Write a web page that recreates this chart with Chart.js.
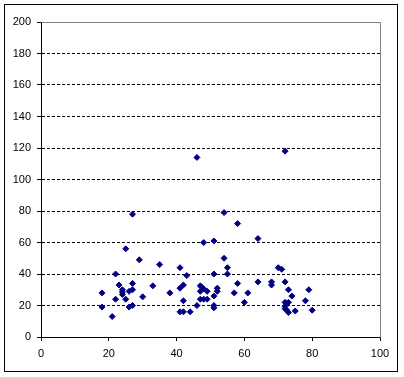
<!DOCTYPE html>
<html>
<head>
<meta charset="utf-8">
<script src="https://cdn.jsdelivr.net/npm/chart.js@4"></script>
<style>
  body { margin: 0; background: #fff; }
  #wrap { position: relative; width: 404px; height: 377px; }
  #frame { position: absolute; left: 4px; top: 4px; width: 392px; height: 366px; border: 1px solid #000; pointer-events: none; }
  canvas { position: absolute; left: 0; top: 0; }
</style>
</head>
<body>
<div id="wrap">
  <canvas id="scatterChart" width="404" height="377"></canvas>
  <div id="frame"></div>
</div>
<script>
// 散布図のデータ
const xValues = [
  18, 18, 21, 22, 22, 23, 24, 24, 24, 25, 25, 26, 26, 27, 27, 27, 27, 29, 30, 33, 35, 38,
  41, 41, 42, 42, 41, 42, 44, 43, 46, 46, 47, 47.5, 48, 49, 47, 47, 48, 49,
  48, 51, 51, 51, 51, 51, 52, 52, 54, 54, 55, 55, 58, 58, 57, 61, 60, 64, 64, 68, 68,
  70, 71, 72, 72, 73, 79, 74, 78, 72, 73, 72, 72, 72.5, 73, 75, 80
];
const yValues = [
  28, 19, 13, 40, 24, 33, 30, 28.5, 27, 56, 24, 29, 19, 78, 34, 30, 20, 49, 25.5, 32.5, 46, 28,
  44, 31, 33, 23, 16, 16, 16, 39, 114, 20, 32.5, 31.5, 30.5, 29, 29, 24, 24, 24,
  60, 61, 40, 26, 20, 18.5, 31, 29, 79, 50, 44, 40, 72, 34, 28, 28, 22, 62.5, 35, 35, 33,
  44, 43, 118, 35, 30, 30, 26, 23, 22, 22, 19.5, 18, 17, 15.5, 16.5, 17
];
const xTicks = [0, 20, 40, 60, 80, 100];
const yTicks = [0, 20, 40, 60, 80, 100, 120, 140, 160, 180, 200];

const points = xValues.map(function (x, i) { return { x: x, y: yValues[i] }; });

// プロット領域の上と右の灰色の枠線
const plotFrame = {
  id: 'plotFrame',
  beforeDatasetsDraw: function (chart) {
    const a = chart.chartArea;
    const ctx = chart.ctx;
    ctx.save();
    ctx.strokeStyle = '#808080';
    ctx.lineWidth = 1;
    ctx.beginPath();
    ctx.moveTo(Math.round(a.left) + 0.5, Math.round(a.top) + 0.5);
    ctx.lineTo(Math.round(a.right) + 0.5, Math.round(a.top) + 0.5);
    ctx.lineTo(Math.round(a.right) + 0.5, Math.round(a.bottom) + 0.5);
    ctx.stroke();
    ctx.restore();
  }
};

const labelFont = { family: '"Liberation Sans", Arial, sans-serif', size: 11 };

const ctx = document.getElementById('scatterChart').getContext('2d');
new Chart(ctx, {
  type: 'scatter',
  data: {
    datasets: [{
      data: points,
      pointStyle: 'rectRot',
      pointRadius: 3,
      pointHoverRadius: 3,
      backgroundColor: '#000080',
      borderColor: '#000080',
      borderWidth: 1
    }]
  },
  options: {
    responsive: false,
    animation: false,
    devicePixelRatio: 1,
    layout: { padding: { left: 0, top: 22, right: 24, bottom: 0 } },
    plugins: { legend: { display: false }, tooltip: { enabled: false } },
    scales: {
      x: {
        type: 'linear',
        min: 0,
        max: 100,
        afterBuildTicks: function (scale) { scale.ticks = xTicks.map(function (v) { return { value: v }; }); },
        afterFit: function (scale) { scale.height = 40; },
        grid: { color: 'rgba(0,0,0,0)', tickColor: '#000', tickLength: 4, drawOnChartArea: false },
        border: { color: '#000', width: 1 },
        ticks: { color: '#000', font: labelFont, padding: 6, maxRotation: 0 }
      },
      y: {
        type: 'linear',
        min: 0,
        max: 200,
        afterBuildTicks: function (scale) { scale.ticks = yTicks.map(function (v) { return { value: v }; }); },
        afterFit: function (scale) { scale.width = 41; },
        grid: {
          color: function (c) {
            const v = c.tick ? c.tick.value : 0;
            return (v === 0 || v === 200) ? 'rgba(0,0,0,0)' : '#000';
          },
          tickColor: '#000',
          tickLength: 4,
          lineWidth: 1
        },
        border: { color: '#000', width: 1, dash: [3, 2] },
        ticks: { color: '#000', font: labelFont, padding: 6 }
      }
    }
  },
  plugins: [plotFrame]
});
</script>
</body>
</html>
